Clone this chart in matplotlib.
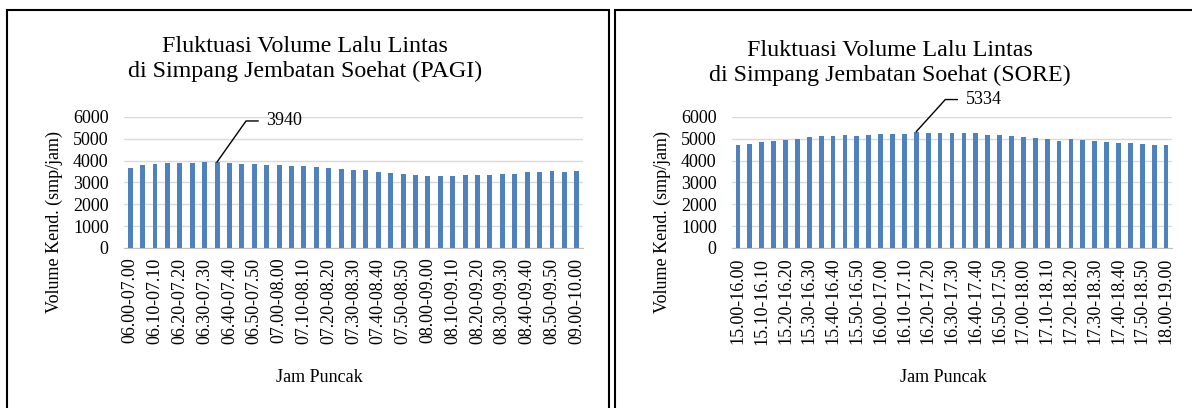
import matplotlib
matplotlib.use("Agg")
import matplotlib.pyplot as plt
from matplotlib.patches import Rectangle
from matplotlib.lines import Line2D
from matplotlib.transforms import IdentityTransform

plt.rcParams['font.family'] = 'serif'
plt.rcParams['font.serif'] = ['Liberation Serif', 'DejaVu Serif']

# morning counts, 5-minute moving hour, 06.00-07.00 .. 09.00-10.00
pagi_volume = [
    3650, 3800, 3850, 3910, 3910, 3910, 3935, 3940, 3910, 3865,
    3850, 3820, 3790, 3760, 3740, 3710, 3680, 3635, 3590, 3560,
    3480, 3435, 3375, 3345, 3310, 3310, 3310, 3330, 3345, 3360,
    3390, 3390, 3465, 3480, 3510, 3500, 3510]
pagi_ticks = [
    "06.00-07.00", "06.10-07.10", "06.20-07.20", "06.30-07.30", "06.40-07.40",
    "06.50-07.50", "07.00-08.00", "07.10-08.10", "07.20-08.20", "07.30-08.30",
    "07.40-08.40", "07.50-08.50", "08.00-09.00", "08.10-09.10", "08.20-09.20",
    "08.30-09.30", "08.40-09.40", "08.50-09.50", "09.00-10.00"]

# afternoon counts, 15.00-16.00 .. 18.00-19.00
sore_volume = [
    4725, 4770, 4860, 4890, 4955, 5000, 5090, 5120, 5140, 5185,
    5140, 5170, 5200, 5200, 5215, 5334, 5275, 5275, 5260, 5275,
    5260, 5185, 5170, 5120, 5075, 5045, 5000, 4910, 4970, 4955,
    4910, 4860, 4830, 4830, 4785, 4740, 4695]
sore_ticks = [
    "15.00-16.00", "15.10-16.10", "15.20-16.20", "15.30-16.30", "15.40-16.40",
    "15.50-16.50", "16.00-17.00", "16.10-17.10", "16.20-17.20", "16.30-17.30",
    "16.40-17.40", "16.50-17.50", "17.00-18.00", "17.10-18.10", "17.20-18.20",
    "17.30-18.30", "17.40-18.40", "17.50-18.50", "18.00-19.00"]

W, H = 1192, 408
fig = plt.figure(figsize=(W / 100, H / 100), dpi=100)

bar_color = '#4F81BD'
fs = 13


def px(x, y):
    # pixel (from top-left) -> figure fraction
    return x / W, 1 - y / H


def panel(left, right, values, ticks, title, title_xy, ylab_x, xlab_x, peak, lead):
    ax = fig.add_axes([left / W, 1 - 248 / H, (right - left) / W, 131 / H])
    x = list(range(len(values)))
    ax.bar(x, values, width=0.4, color=bar_color, zorder=3)
    ax.set_xlim(-0.5, len(values) - 0.5)
    ax.set_ylim(0, 6000)
    ax.set_yticks(range(0, 6001, 1000))
    ax.grid(axis='y', color='#D9D9D9', linewidth=1.0, zorder=0)
    for s in ['top', 'right', 'left']:
        ax.spines[s].set_visible(False)
    ax.spines['bottom'].set_color('#BFBFBF')
    ax.set_xticks(x[::2])
    ax.set_xticklabels(ticks, rotation=90, fontsize=fs)
    ax.tick_params(axis='y', length=0, pad=11, labelsize=fs)
    ax.tick_params(axis='x', length=0, pad=7)

    # leader line + label (pixel offsets from the bar top)
    dx1, dy1, dx2, tx = lead
    v = values[peak]
    x0, y0 = ax.transData.transform((peak, v))
    fig.add_artist(Line2D([x0, x0 + dx1, x0 + dx2], [y0, y0 + dy1, y0 + dy1],
                          color='black', lw=1, transform=IdentityTransform()))
    ax.annotate(str(v), xy=(peak, v), xytext=(tx, dy1), textcoords='offset pixels',
                fontsize=fs, ha='left', va='center')

    fig.text(*px(*title_xy), title, ha='center', va='center', fontsize=17.3,
             linespacing=1.2)
    fig.text(*px(ylab_x, 222), 'Volume Kend. (smp/jam)', rotation=90,
             ha='center', va='center', fontsize=fs)
    fig.text(*px(xlab_x, 378), 'Jam Puncak', ha='center', va='center', fontsize=fs)
    return ax


ax1 = panel(124, 583, pagi_volume, pagi_ticks,
            'Fluktuasi Volume Lalu Lintas\ndi Simpang Jembatan Soehat (PAGI)',
            (305, 59), 54, 319, 7, (29, 41, 41, 49))
ax2 = panel(732, 1172, sore_volume, sore_ticks,
            'Fluktuasi Volume Lalu Lintas\ndi Simpang Jembatan Soehat (SORE)',
            (890, 63), 662, 943, 15, (29, 32, 41, 50))

# panel frames
fig.patches.append(Rectangle(px(7.5, 430), 601 / W, 420 / H, transform=fig.transFigure,
                             fill=False, edgecolor='black', linewidth=1.5))
fig.patches.append(Rectangle(px(615, 430), 620 / W, 420 / H, transform=fig.transFigure,
                             fill=False, edgecolor='black', linewidth=1.5))

fig.savefig('out.png', dpi=100)
